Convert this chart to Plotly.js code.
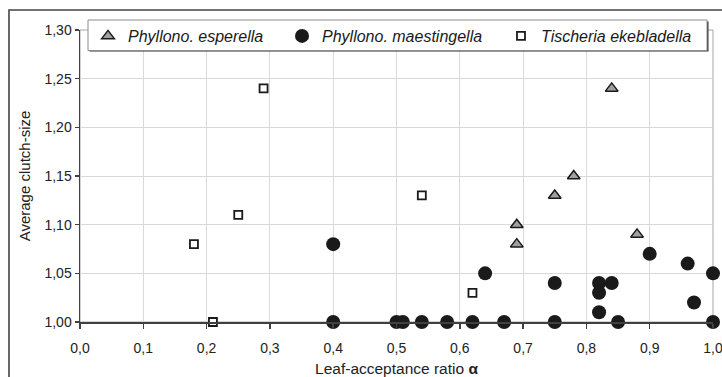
<!DOCTYPE html>
<html><head><meta charset="utf-8">
<script src="https://cdn.plot.ly/plotly-3.0.1.min.js"></script>
<style>html,body{margin:0;padding:0;background:#fff}</style>
</head><body><div id="chart" style="width:722px;height:377px"></div>
<script>
// Phyllonorycter esperella (grey triangles)
const esperellaX = [0.69, 0.69, 0.75, 0.78, 0.84, 0.88];
const esperellaY = [1.08, 1.10, 1.13, 1.15, 1.24, 1.09];
// Phyllonorycter maestingella (black circles)
const maestingellaX = [0.40, 0.40, 0.50, 0.51, 0.54, 0.58, 0.62, 0.64, 0.67, 0.75, 0.75,
                       0.82, 0.82, 0.82, 0.84, 0.85, 0.90, 0.96, 0.97, 1.00, 1.00];
const maestingellaY = [1.08, 1.00, 1.00, 1.00, 1.00, 1.00, 1.00, 1.05, 1.00, 1.04, 1.00,
                       1.04, 1.03, 1.01, 1.04, 1.00, 1.07, 1.06, 1.02, 1.05, 1.00];
// Tischeria ekebladella (open squares)
const tischeriaX = [0.18, 0.21, 0.25, 0.29, 0.54, 0.62];
const tischeriaY = [1.08, 1.00, 1.11, 1.24, 1.13, 1.03];

const seriesNames = ['Phyllono. esperella', 'Phyllono. maestingella', 'Tischeria ekebladella'];

const xTickVals = [0, 0.1, 0.2, 0.3, 0.4, 0.5, 0.6, 0.7, 0.8, 0.9, 1.0];
const xTickText = ['0,0', '0,1', '0,2', '0,3', '0,4', '0,5', '0,6', '0,7', '0,8', '0,9', '1,0'];
const yTickVals = [1.00, 1.05, 1.10, 1.15, 1.20, 1.25, 1.30];
const yTickText = ['1,00', '1,05', '1,10', '1,15', '1,20', '1,25', '1,30'];

const FONT = '"Liberation Sans", Arial, Helvetica, sans-serif';
const W = 722, H = 377;
const M = {l: 80, r: 9, t: 30, b: 55};
const PW = W - M.l - M.r, PH = H - M.t - M.b;
const px = v => (v - M.l) / PW;          // pixel x -> paper x
const py = v => (H - M.b - v) / PH;      // pixel y -> paper y

const traces = [
  {
    type: 'scatter', mode: 'markers', name: '<i>' + seriesNames[0] + '</i>',
    x: esperellaX, y: esperellaY, legend: 'legend', cliponaxis: false,
    marker: {symbol: 'triangle-up', size: 11, color: '#a0a0a0', line: {color: '#1a1a1a', width: 1.5}}
  },
  {
    type: 'scatter', mode: 'markers', name: '<i>' + seriesNames[1] + '</i>',
    x: maestingellaX, y: maestingellaY, legend: 'legend2', cliponaxis: false,
    marker: {symbol: 'circle', size: 14, color: '#1a1a1a', line: {color: '#1a1a1a', width: 0}}
  },
  {
    type: 'scatter', mode: 'markers', name: '<i>' + seriesNames[2] + '</i>',
    x: tischeriaX, y: tischeriaY, legend: 'legend3', cliponaxis: false,
    marker: {symbol: 'square', size: 8, color: '#ffffff', line: {color: '#1a1a1a', width: 1.8}}
  }
];

const legendBase = {
  orientation: 'h', bgcolor: 'rgba(0,0,0,0)', borderwidth: 0,
  font: {family: FONT, size: 16, color: '#1a1a1a'},
  xanchor: 'left', yanchor: 'middle', y: py(36)
};

const layout = {
  width: W, height: H,
  margin: M,
  paper_bgcolor: '#ffffff', plot_bgcolor: '#ffffff',
  font: {family: FONT, color: '#222222'},
  showlegend: true,
  legend: Object.assign({}, legendBase, {x: px(88)}),
  legend2: Object.assign({}, legendBase, {x: px(282)}),
  legend3: Object.assign({}, legendBase, {x: px(501)}),
  xaxis: {
    range: [0, 1.0], tickvals: xTickVals, ticktext: xTickText,
    showgrid: true, gridcolor: '#d9d9d9', gridwidth: 1, zeroline: false,
    showline: true, linecolor: '#404040', linewidth: 1.5,
    ticks: 'outside', ticklen: 5, tickwidth: 1.5, tickcolor: '#404040',
    ticklabelstandoff: 8, ticklabeloverflow: 'allow',
    tickfont: {family: FONT, size: 14, color: '#222222'},
    title: {text: 'Leaf-acceptance ratio <b>α</b>', font: {family: FONT, size: 15.5, color: '#222222'}, standoff: 14},
    automargin: false
  },
  yaxis: {
    range: [1.0, 1.30], tickvals: yTickVals, ticktext: yTickText,
    showgrid: true, gridcolor: '#d9d9d9', gridwidth: 1, zeroline: false,
    showline: true, linecolor: '#404040', linewidth: 1.5,
    ticks: 'outside', ticklen: 4, tickwidth: 1.5, tickcolor: '#404040',
    ticklabeloverflow: 'allow',
    tickfont: {family: FONT, size: 14, color: '#222222'},
    title: {text: 'Average clutch-size', font: {family: FONT, size: 15, color: '#222222'}, standoff: 10},
    automargin: false
  },
  shapes: [
    // plot-area border (grey)
    {type: 'rect', xref: 'paper', yref: 'paper', x0: 0, x1: 1, y0: 0, y1: 1,
     line: {color: '#a6a6a6', width: 1}, fillcolor: 'rgba(0,0,0,0)', layer: 'between'},
    // outer frame
    {type: 'rect', xref: 'paper', yref: 'paper', x0: px(9), x1: px(760), y0: py(420), y1: py(10),
     line: {color: '#444444', width: 1.6}, fillcolor: 'rgba(0,0,0,0)', layer: 'above'},
    // legend box shadow
    {type: 'rect', xref: 'paper', yref: 'paper', x0: px(89.5), x1: px(708.5), y0: py(51.5), y1: py(21.5),
     line: {width: 0}, fillcolor: '#333333', layer: 'above'},
    // legend box
    {type: 'rect', xref: 'paper', yref: 'paper', x0: px(88), x1: px(707), y0: py(50.5), y1: py(20),
     line: {color: '#8c8c8c', width: 1}, fillcolor: '#ffffff', layer: 'above'}
  ]
};

Plotly.newPlot('chart', traces, layout, {displayModeBar: false, staticPlot: true});
</script>
</body></html>
